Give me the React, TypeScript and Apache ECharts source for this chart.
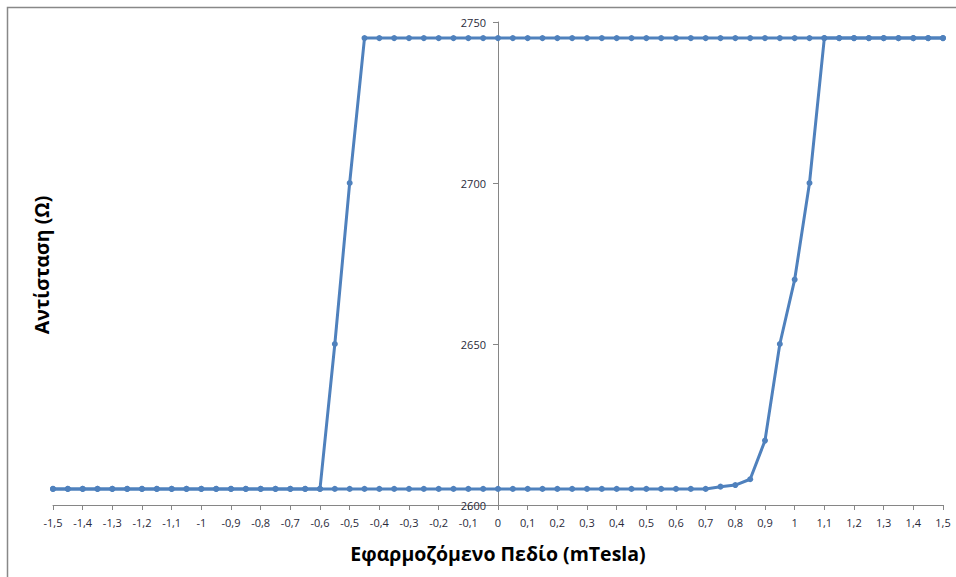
import React, { useEffect, useRef } from "react";
import * as echarts from "echarts";

const fieldUp = [
  -1.5, -1.45, -1.4, -1.35, -1.3, -1.25, -1.2, -1.15, -1.1, -1.05, -1.0,
  -0.95, -0.9, -0.85, -0.8, -0.75, -0.7, -0.65, -0.6, -0.55, -0.5, -0.45,
  -0.4, -0.35, -0.3, -0.25, -0.2, -0.15, -0.1, -0.05, 0, 0.05, 0.1, 0.15,
  0.2, 0.25, 0.3, 0.35, 0.4, 0.45, 0.5, 0.55, 0.6, 0.65, 0.7, 0.75, 0.8,
  0.85, 0.9, 0.95, 1.0, 1.05, 1.1, 1.15, 1.2, 1.25, 1.3, 1.35, 1.4, 1.45, 1.5,
];
const resistanceUp = [
  2605, 2605, 2605, 2605, 2605, 2605, 2605, 2605, 2605, 2605, 2605,
  2605, 2605, 2605, 2605, 2605, 2605, 2605, 2605, 2605, 2605, 2605,
  2605, 2605, 2605, 2605, 2605, 2605, 2605, 2605, 2605, 2605, 2605, 2605,
  2605, 2605, 2605, 2605, 2605, 2605, 2605, 2605, 2605, 2605, 2605, 2605.7, 2606.2,
  2608, 2620, 2650, 2670, 2700, 2745, 2745, 2745, 2745, 2745, 2745, 2745, 2745, 2745,
];
const fieldDown = [
  1.5, 1.45, 1.4, 1.35, 1.3, 1.25, 1.2, 1.15, 1.1, 1.05, 1.0, 0.95, 0.9,
  0.85, 0.8, 0.75, 0.7, 0.65, 0.6, 0.55, 0.5, 0.45, 0.4, 0.35, 0.3, 0.25,
  0.2, 0.15, 0.1, 0.05, 0, -0.05, -0.1, -0.15, -0.2, -0.25, -0.3, -0.35,
  -0.4, -0.45, -0.5, -0.55, -0.6, -0.65, -0.7, -0.75, -0.8, -0.85, -0.9,
  -0.95, -1.0, -1.05, -1.1, -1.15, -1.2, -1.25, -1.3, -1.35, -1.4, -1.45, -1.5,
];
const resistanceDown = [
  2745, 2745, 2745, 2745, 2745, 2745, 2745, 2745, 2745, 2745, 2745, 2745, 2745,
  2745, 2745, 2745, 2745, 2745, 2745, 2745, 2745, 2745, 2745, 2745, 2745, 2745,
  2745, 2745, 2745, 2745, 2745, 2745, 2745, 2745, 2745, 2745, 2745, 2745,
  2745, 2745, 2700, 2650, 2605, 2605, 2605, 2605, 2605, 2605, 2605,
  2605, 2605, 2605, 2605, 2605, 2605, 2605, 2605, 2605, 2605, 2605, 2605,
];

const xTitle = "Εφαρμοζόμενο Πεδίο (mTesla)";
const yTitle = "Αντίσταση (Ω)";

const lineColor = "#4F81BD";
const axisGray = "#868686";
const font = "'Open Sans', 'Noto Sans', sans-serif";

const GRID_LEFT = 53;
const GRID_RIGHT = 13;
const WIDTH = 956;

export default function App() {
  const ref = useRef<HTMLDivElement>(null);
  useEffect(() => {
    if (!ref.current) return;
    const chart = echarts.init(ref.current, null, { renderer: "svg" });
    const seriesStyle = {
      type: "line" as const,
      symbol: "circle",
      symbolSize: 6,
      lineStyle: { color: lineColor, width: 3 },
      itemStyle: { color: lineColor },
      emphasis: { disabled: true },
    };
    const plotWidth = WIDTH - GRID_LEFT - GRID_RIGHT;
    // offset of y axis so it sits at x = 0 (middle of symmetric range)
    const yOffset = -plotWidth / 2;
    chart.setOption({
      animation: false,
      backgroundColor: "#ffffff",
      grid: { left: GRID_LEFT, right: GRID_RIGHT, top: 22, bottom: 72, containLabel: false, outerBoundsMode: "none" },
      xAxis: {
        type: "value",
        min: -1.5,
        max: 1.5,
        interval: 0.1,
        splitLine: { show: false },
        axisLine: { onZero: false, lineStyle: { color: axisGray, width: 1 } },
        axisTick: { show: true, length: 5, lineStyle: { color: axisGray } },
        axisLabel: {
          margin: 12,
          fontSize: 11,
          fontFamily: font,
          color: "#2a2a3a",
          formatter: (v: number) => String(Math.round(v * 10) / 10).replace(".", ","),
        },
        name: xTitle,
        nameLocation: "middle",
        nameGap: 38,
        nameTextStyle: { fontSize: 19.5, fontWeight: "bold", fontFamily: font, color: "#000" },
      },
      yAxis: {
        type: "value",
        position: "left",
        offset: yOffset,
        min: 2600,
        max: 2750,
        interval: 50,
        splitLine: { show: false },
        axisLine: { show: true, onZero: false, lineStyle: { color: axisGray, width: 1 } },
        axisTick: { show: true, length: 5, lineStyle: { color: axisGray } },
        axisLabel: {
          margin: 12,
          fontSize: 11,
          fontFamily: font,
          color: "#2a2a3a",
          formatter: (v: number) => String(v),
        },
      },
      graphic: [
        {
          type: "rect",
          shape: { x: 7.5, y: 7.5, width: 1200, height: 1200 },
          style: { fill: "none", stroke: "#888888", lineWidth: 1.5 },
          silent: true,
        },
        {
          type: "text",
          x: 41,
          y: 265,
          rotation: Math.PI / 2,
          style: {
            text: yTitle,
            font: `bold 19.5px ${font}`,
            fill: "#000",
            textAlign: "center",
            textVerticalAlign: "middle",
          },
        },
      ],
      series: [
        { ...seriesStyle, name: "up", data: fieldUp.map((x, i) => [x, resistanceUp[i]]) },
        { ...seriesStyle, name: "down", data: fieldDown.map((x, i) => [x, resistanceDown[i]]) },
      ],
    });
    return () => chart.dispose();
  }, []);
  return <div ref={ref} style={{ position: "fixed", left: 0, top: 0, width: WIDTH, height: 577 }} />;
}
